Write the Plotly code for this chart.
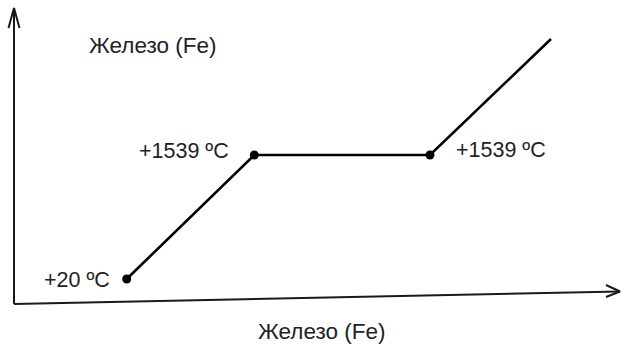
import plotly.graph_objects as go

# Schematic heating curve of iron (arbitrary time / temperature units)
time = [11.27, 24.03, 41.6, 53.7]
temp = [2.5, 14.9, 14.9, 26.5]
point_labels = ["+20 ºC", "+1539 ºC", "+1539 ºC"]
marker_points = 3  # the last vertex has no marker

title_top = "Железо (Fe)"
title_bottom = "Железо (Fe)"

fig = go.Figure()

# axis lines (tilted x-axis, vertical y-axis) with open chevron heads
AX_COLOR = "#1a1a1a"
fig.add_trace(go.Scatter(x=[0, 0], y=[0, 29.6], mode="lines",
                         line=dict(color=AX_COLOR, width=2), hoverinfo="skip"))
fig.add_trace(go.Scatter(x=[-0.55, 0, 0.55], y=[27.6, 29.6, 27.6], mode="lines",
                         line=dict(color=AX_COLOR, width=2), hoverinfo="skip"))
fig.add_trace(go.Scatter(x=[0, 60.6], y=[0, 1.25], mode="lines",
                         line=dict(color=AX_COLOR, width=2), hoverinfo="skip"))
fig.add_trace(go.Scatter(x=[59.2, 60.6, 59.2], y=[1.9, 1.25, 0.7], mode="lines",
                         line=dict(color=AX_COLOR, width=2), hoverinfo="skip"))

# heating curve
fig.add_trace(go.Scatter(x=time, y=temp, mode="lines",
                         line=dict(color="black", width=2.6), hoverinfo="skip"))
fig.add_trace(go.Scatter(x=time[:marker_points], y=temp[:marker_points], mode="markers",
                         marker=dict(color="black", size=9), hoverinfo="skip"))

LABEL_FONT = dict(family="Liberation Sans, Arial, sans-serif", size=21.5, color="#222222")
TITLE_FONT = dict(family="Liberation Sans, Arial, sans-serif", size=22.5, color="#222222")

label_pos = [
    dict(x=time[0] - 1.45, y=temp[0] - 0.1, xanchor="right"),
    dict(x=time[1] - 2.3, y=temp[1] + 0.45, xanchor="right"),
    dict(x=time[2] + 2.4, y=temp[2] + 0.5, xanchor="left"),
]
for lab, pos in zip(point_labels, label_pos):
    fig.add_annotation(text=lab, x=pos["x"], y=pos["y"], xanchor=pos["xanchor"],
                       yanchor="middle", showarrow=False, font=LABEL_FONT)

fig.add_annotation(text=title_top, x=7.3, y=25.9, xanchor="left", yanchor="middle",
                   showarrow=False, font=TITLE_FONT)
fig.add_annotation(text=title_bottom, x=30.75, y=-2.7, xanchor="center", yanchor="middle",
                   showarrow=False, font=TITLE_FONT)

fig.update_layout(
    width=621, height=344,
    margin=dict(l=0, r=0, t=0, b=0),
    paper_bgcolor="white", plot_bgcolor="white",
    showlegend=False,
    xaxis=dict(range=[-1.4, 60.7], visible=False, fixedrange=True),
    yaxis=dict(range=[-4.0, 30.4], visible=False, fixedrange=True),
)

fig.write_html("out.html", config={"displayModeBar": False},
               post_script="document.body.style.margin='0';document.body.style.padding='0';")
